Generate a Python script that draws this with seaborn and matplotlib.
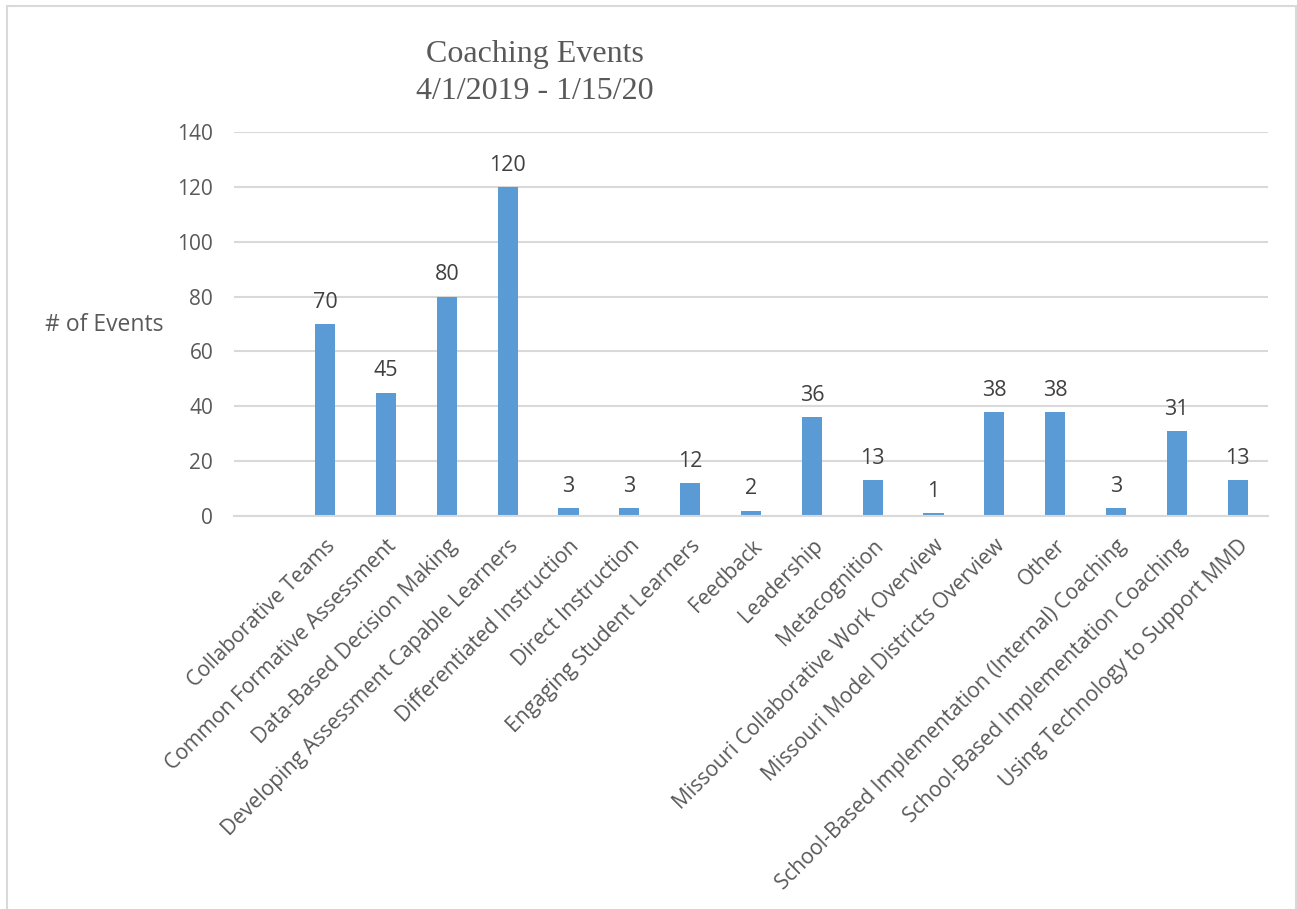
import matplotlib
matplotlib.use("Agg")
import matplotlib.pyplot as plt
import seaborn as sns
import pandas as pd
from matplotlib.patches import Rectangle

# data (first slot is empty in the original)
categories = ["", "Collaborative Teams", "Common Formative Assessment", "Data-Based Decision Making",
              "Developing Assessment Capable Learners", "Differentiated Instruction", "Direct Instruction",
              "Engaging Student Learners", "Feedback", "Leadership", "Metacognition",
              "Missouri Collaborative Work Overview", "Missouri Model Districts Overview", "Other",
              "School-Based Implementation (Internal) Coaching", "School-Based Implementation Coaching",
              "Using Technology to Support MMD"]
events = [0, 70, 45, 80, 120, 3, 3, 12, 2, 36, 13, 1, 38, 38, 3, 31, 13]
value_labels = ["" if c == "" else str(v) for c, v in zip(categories, events)]
yticks = [0, 20, 40, 60, 80, 100, 120, 140]

df = pd.DataFrame({"category": categories, "events": events})

sns.set_theme(style="white")
plt.rcParams['font.family'] = ['Open Sans', 'DejaVu Sans']

fig = plt.figure(figsize=(12.97, 9.09), dpi=100)
ax = fig.add_axes([234 / 1297, 1 - 516 / 909, (1268 - 234) / 1297, (516 - 132) / 909])

sns.barplot(data=df, x="category", y="events", order=categories, color="#5B9BD5",
            width=0.33, saturation=1, linewidth=0, ax=ax)

ax.set_ylim(0, 140)
ax.set_yticks(yticks)
ax.yaxis.grid(True, color="#D9D9D9", linewidth=1.5)
ax.set_axisbelow(True)
for s in ["top", "right", "left"]:
    ax.spines[s].set_visible(False)
ax.spines["bottom"].set_color("#D9D9D9")
ax.spines["bottom"].set_linewidth(1.5)
ax.tick_params(axis="y", length=0, colors="#595959", labelsize=15, pad=15)
ax.set_xlabel("")
ax.set_ylabel("")

ax.set_xticks(range(len(categories)))
ax.set_xticklabels(categories, rotation=45, ha="right", rotation_mode="anchor", va="top")
ax.tick_params(axis="x", length=0, colors="#595959", labelsize=15.2, pad=14)

ax.bar_label(ax.containers[0], labels=value_labels, padding=8, fontsize=15.5, color="#404040")

fig.text(45 / 1297, 1 - 325 / 909, "# of Events", ha="left", va="center", fontsize=16.5, color="#595959")
fig.text(535 / 1297, 1 - 73 / 909, "Coaching Events\n4/1/2019 - 1/15/20", ha="center", va="center",
         fontsize=23, color="#595959", family="Liberation Serif", linespacing=1.4)

# chart frame as in the source document
fig.patches.append(Rectangle((7 / 1297, -0.02), (1296 - 7) / 1297, 1.02 - 6 / 909,
                             transform=fig.transFigure, fill=False, edgecolor="#D9D9D9", linewidth=1.5))

fig.savefig("out.png", dpi=100)
